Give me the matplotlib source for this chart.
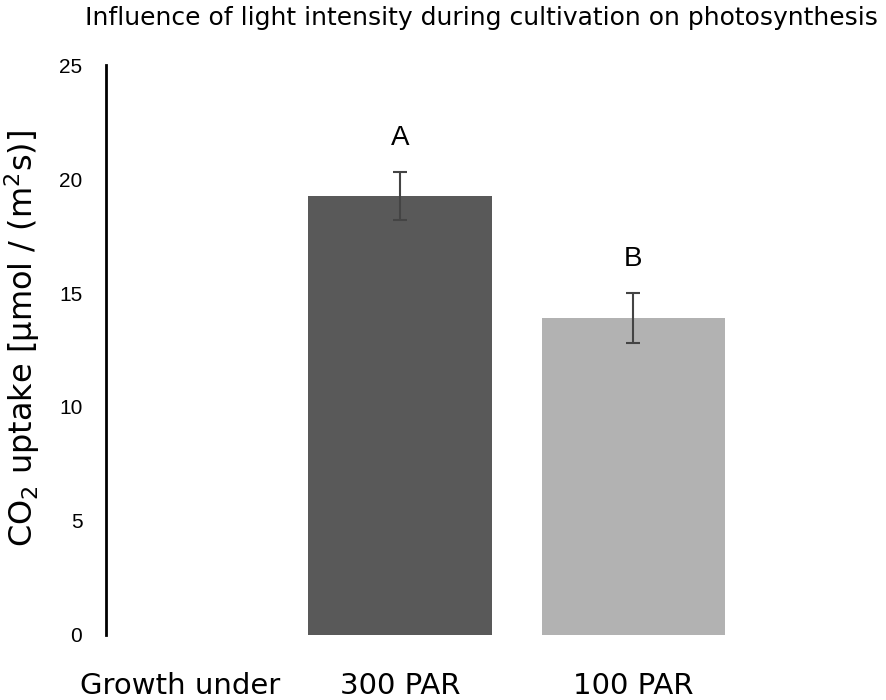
import matplotlib
matplotlib.use("Agg")
import matplotlib.pyplot as plt

# data
groups = ['300 PAR', '100 PAR']
uptake = [19.25, 13.9]
uptake_err = [1.05, 1.1]
letters = ['A', 'B']
bar_colors = ['#595959', '#b2b2b2']

fig = plt.figure(figsize=(8.86, 7.0), dpi=100)
ax = fig.add_axes([0.1196, 0.093, 0.84, 0.814])

x = list(range(len(groups)))
ax.bar(x, uptake, width=0.785, color=bar_colors)
ax.errorbar(x, uptake, yerr=uptake_err, fmt='none', ecolor='#444444',
            elinewidth=1.5, capsize=5, capthick=1.5)

for xi, v, e, lab in zip(x, uptake, uptake_err, letters):
    ax.text(xi, v + e + 1.5, lab, ha='center', va='center',
            fontsize=20, family='Liberation Sans')

ax.set_xlim(-1.26, 1.93)
ax.set_ylim(0, 25)
ax.set_yticks([0, 5, 10, 15, 20, 25])
ax.tick_params(axis='y', length=0, pad=17, labelsize=15)
for t in ax.get_yticklabels():
    t.set_family('Liberation Sans')

# "Growth under" sits in the tick row on the left
ax.set_xticks([-0.94] + x)
ax.set_xticklabels(['Growth under'] + groups, fontsize=21)
ax.tick_params(axis='x', length=0, pad=27)

for s in ['top', 'right', 'bottom']:
    ax.spines[s].set_visible(False)
ax.spines['left'].set_linewidth(2)

ax.set_ylabel('CO$_2$ uptake [µmol / (m$^2$s)]', fontsize=23)
ax.yaxis.set_label_coords(-0.086, 0.521)
fig.text(0.543, 0.974, 'Influence of light intensity during cultivation on photosynthesis',
         ha='center', va='center', fontsize=18)

fig.savefig('out.png', dpi=100)
